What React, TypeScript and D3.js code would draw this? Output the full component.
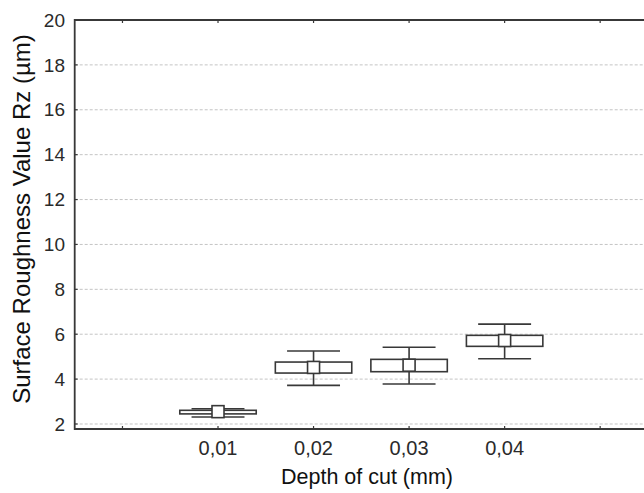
import React, { useEffect, useRef } from "react";
import * as d3 from "d3";

const depths = [0.01, 0.02, 0.03, 0.04];
const depthLabels = ["0,01", "0,02", "0,03", "0,04"];
const means = [2.55, 4.52, 4.62, 5.72];
const boxLow = [2.45, 4.27, 4.33, 5.46];
const boxHigh = [2.61, 4.76, 4.88, 5.95];
const whiskerLow = [2.31, 3.72, 3.78, 4.91];
const whiskerHigh = [2.68, 5.25, 5.42, 6.45];
const yTicks = [2, 4, 6, 8, 10, 12, 14, 16, 18, 20];
const xTicks = [0, 0.01, 0.02, 0.03, 0.04, 0.05, 0.06];

const App = () => {
  const svgRef = useRef<SVGSVGElement>(null);

  useEffect(() => {
    const width = 644;
    const height = 493;
    const left = 74.7;
    const top = 20;
    const bottom = 429;
    const lineColor = "#383838";
    const font = "Liberation Sans, Arial, sans-serif";

    const svg = d3.select(svgRef.current);
    svg.selectAll("*").remove();
    svg.attr("width", width).attr("height", height);

    const x = d3.scaleLinear().domain([-0.005, 0.06]).range([left, 695.7]);
    const y = d3.scaleLinear().domain([1.777, 20]).range([bottom, top]);

    // grid
    svg
      .append("g")
      .selectAll("line")
      .data(yTicks.filter((t) => t < 20))
      .join("line")
      .attr("x1", left)
      .attr("x2", width)
      .attr("y1", (d) => y(d))
      .attr("y2", (d) => y(d))
      .attr("stroke", "#c4c4c4")
      .attr("stroke-width", 1)
      .attr("stroke-dasharray", "3,2");

    // y tick labels
    svg
      .append("g")
      .selectAll("text")
      .data(yTicks)
      .join("text")
      .attr("x", 65)
      .attr("y", (d) => y(d))
      .attr("dy", "0.35em")
      .attr("text-anchor", "end")
      .attr("font-family", font)
      .attr("font-size", 19)
      .attr("fill", "#2a2a2a")
      .text((d) => d);

    // y ticks (inward)
    svg
      .append("g")
      .selectAll("line")
      .data(yTicks)
      .join("line")
      .attr("x1", left)
      .attr("x2", left + 3)
      .attr("y1", (d) => y(d))
      .attr("y2", (d) => y(d))
      .attr("stroke", lineColor)
      .attr("stroke-width", 1.2);

    // x ticks top and bottom (inward)
    const xt = svg.append("g");
    xt.selectAll(".tb")
      .data(xTicks)
      .join("line")
      .attr("class", "tb")
      .attr("x1", (d) => x(d))
      .attr("x2", (d) => x(d))
      .attr("y1", bottom)
      .attr("y2", bottom - 3)
      .attr("stroke", lineColor)
      .attr("stroke-width", 1.2);
    xt.selectAll(".tt")
      .data(xTicks)
      .join("line")
      .attr("class", "tt")
      .attr("x1", (d) => x(d))
      .attr("x2", (d) => x(d))
      .attr("y1", top)
      .attr("y2", top + 3)
      .attr("stroke", lineColor)
      .attr("stroke-width", 1.2);

    // x tick labels
    svg
      .append("g")
      .selectAll("text")
      .data(depths)
      .join("text")
      .attr("x", (d) => x(d))
      .attr("y", 455)
      .attr("text-anchor", "middle")
      .attr("font-family", font)
      .attr("font-size", 20)
      .attr("fill", "#2a2a2a")
      .text((d, i) => depthLabels[i]);

    // frame
    svg
      .append("path")
      .attr("d", `M${width},${top}H${left}V${bottom}H${width}`)
      .attr("fill", "none")
      .attr("stroke", lineColor)
      .attr("stroke-width", 1.8);

    // boxes: mean square, box and whiskers
    const step = x(0.01) - x(0);
    const boxHalf = step * 0.4;
    const capHalf = step * 0.277;
    const sq = 12;
    const g = svg.append("g").attr("stroke", lineColor).attr("stroke-width", 1.6);
    depths.forEach((d, i) => {
      const cx = x(d);
      g.append("line")
        .attr("x1", cx)
        .attr("x2", cx)
        .attr("y1", y(whiskerLow[i]))
        .attr("y2", y(whiskerHigh[i]));
      g.append("line")
        .attr("x1", cx - capHalf)
        .attr("x2", cx + capHalf)
        .attr("y1", y(whiskerLow[i]))
        .attr("y2", y(whiskerLow[i]));
      g.append("line")
        .attr("x1", cx - capHalf)
        .attr("x2", cx + capHalf)
        .attr("y1", y(whiskerHigh[i]))
        .attr("y2", y(whiskerHigh[i]));
      g.append("rect")
        .attr("x", cx - boxHalf)
        .attr("width", boxHalf * 2)
        .attr("y", y(boxHigh[i]))
        .attr("height", y(boxLow[i]) - y(boxHigh[i]))
        .attr("fill", "#fff");
      g.append("rect")
        .attr("x", cx - sq / 2)
        .attr("width", sq)
        .attr("y", y(means[i]) - sq / 2)
        .attr("height", sq)
        .attr("fill", "#fff");
    });

    // axis titles
    svg
      .append("text")
      .attr("x", 367)
      .attr("y", 484)
      .attr("text-anchor", "middle")
      .attr("font-family", font)
      .attr("font-size", 21.5)
      .attr("fill", "#111")
      .text("Depth of cut (mm)");

    svg
      .append("text")
      .attr("transform", "translate(30,219) rotate(-90)")
      .attr("text-anchor", "middle")
      .attr("font-family", font)
      .attr("font-size", 24)
      .attr("fill", "#111")
      .text("Surface Roughness Value Rz (µm)");
  }, []);

  return (
    <svg
      ref={svgRef}
      style={{ position: "absolute", left: 0, top: 0, background: "#fff" }}
    />
  );
};

export default App;
